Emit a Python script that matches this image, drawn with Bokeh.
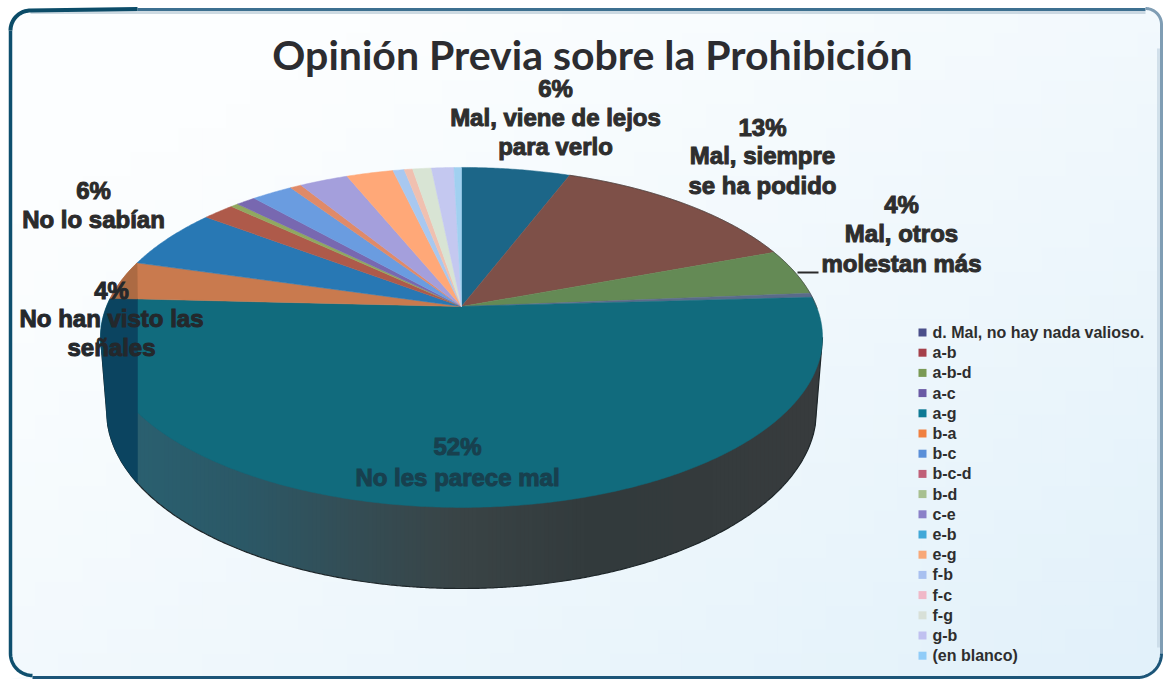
import numpy as np
from bokeh.embed import file_html
from bokeh.resources import INLINE
from bokeh.plotting import figure
from bokeh.models import Range1d
from bokeh.core.properties import value

# ---------- data ----------
title_text = "Opinión Previa sobre la Prohibición"
slice_pct = [5.8, 13.5, 4.4, 0.4, 51.7, 3.7, 5.8, 1.7, 0.4, 1.05, 2.2, 0.6, 2.6, 2.5, 0.6, 0.45, 1.0, 1.2, 0.4]
slice_colors = ["#1c6688", "#7e5048", "#648a55", "#5a6b8a", "#116b7d", "#c97a4e", "#2878b4", "#ae5a4a", "#90a860",
                "#7868b0", "#6a9ce0", "#e08a68", "#a49fdc", "#ffa878", "#a8c8f0", "#f0c0b0", "#d8e4d4", "#c4c8f0", "#a0d0f0"]
legend_names = ["d. Mal, no hay nada valioso.", "a-b", "a-b-d", "a-c", "a-g", "b-a", "b-c", "b-c-d", "b-d", "c-e",
                "e-b", "e-g", "f-b", "f-c", "f-g", "g-b", "(en blanco)"]
legend_colors = ["#4a4f8a", "#a5404a", "#7a9a55", "#6a5aa5", "#0e7a95", "#f08040", "#5a8fd8", "#c06078", "#a8c090",
                 "#8a80c8", "#40a8d8", "#f8a878", "#a8c0f0", "#f0b8c8", "#d8e0d8", "#c0c0f0", "#90ccf8"]
label_lines = [["6%", "Mal, viene de lejos", "para verlo"],
               ["13%", "Mal, siempre", "se ha podido"],
               ["4%", "Mal, otros", "molestan más"],
               ["6%", "No lo sabían"],
               ["4%", "No han visto las", "señales"],
               ["52%", "No les parece mal"]]

# ---------- layout (page pixels) ----------
W, H = 1165, 680
p = figure(width=W, height=H, x_range=Range1d(0, W), y_range=Range1d(H, 0),
           output_backend="svg", toolbar_location=None, min_border=0, outline_line_color=None,
           background_fill_color="#ffffff", border_fill_color="#ffffff")
p.axis.visible = False
p.grid.visible = False

# background gradient drawn as a grid of small cells
L, T, R, B = 10, 8, 1161, 677
xe = np.linspace(L, R, 49)
ye = np.linspace(T, B, 29)
c0, c1 = np.array([252, 254, 255]), np.array([226, 241, 250])
bl, br, bt, bb, bc = [], [], [], [], []
for i in range(len(xe) - 1):
    for j in range(len(ye) - 1):
        fx, fy = (xe[i] + xe[i + 1]) / 2 / W, (ye[j] + ye[j + 1]) / 2 / H
        t = max(0.0, min(1.0, 0.62 * fx + 0.62 * fy - 0.22)) ** 1.1
        c = c0 + (c1 - c0) * t
        bl.append(xe[i]); br.append(xe[i + 1] + 1); bt.append(ye[j]); bb.append(ye[j + 1] + 1)
        bc.append("#%02x%02x%02x" % tuple(int(v) for v in c))
p.quad(left=bl, right=br, top=bt, bottom=bb, fill_color=bc, line_color=None)


def corner(cx, cy, r, a0, a1, n=24):
    a = np.radians(np.linspace(a0, a1, n))
    return cx + r * np.cos(a), cy - r * np.sin(a)


# frame pieces
tlx, tly = corner(L + 20, T + 22, 20, 180, 90)
trx, try_ = corner(R - 16, T + 16, 16, 90, 0)
brx, bry = corner(R - 24, B - 24, 24, 0, -90)
blx, bly = corner(L + 22, B - 24, 22, 270, 180)
for xs, ys, ox, oy in [(tlx, tly, 0, 0), (trx, try_, R + 4, 0), (brx, bry, R + 4, B + 3), (blx, bly, 0, B + 3)]:
    p.patch(list(xs) + [ox], list(ys) + [oy], fill_color="#ffffff", line_color=None)
# top (light part, shadow then line)
p.line([L + 20, R - 16], [T + 4, T + 4], line_color="#b9cbd6", line_width=3, line_alpha=0.7)
p.line([137, R - 16], [T + 1, T + 1], line_color="#3d7090", line_width=3)
p.line(list(trx) + [R, R], list(try_) + [T + 40, B - 24], line_color="#7f9db4", line_width=3)
p.line([R - 3, R - 3], [T + 40, B - 30], line_color="#c4d6e2", line_width=3, line_alpha=0.7)
p.line(list(brx) + [L + 22], list(bry) + [B, ], line_color="#1c5578", line_width=3)
p.line([L, L] + list(reversed(list(blx))), [T + 22, B - 24] + list(reversed(list(bly))), line_color="#0e4f6e", line_width=3.5)
p.line(list(tlx) + [137], list(tly) + [T + 0.5], line_color="#0c4c68", line_width=4)

# ---------- 3D pie ----------
CX, CY0, A, RB, BETA, GAMMA = 461.0, 337.0, 355.0, 170.0, 31.0, 0.182


def rim(theta):
    X, Y = np.sin(theta), np.cos(theta)
    d = 1 + GAMMA * Y
    return CX + A * X / d, CY0 - (RB * Y + BETA) / d


APEX = (CX, CY0 - BETA)
BCY, BA, BB = 410.0, 355.0, 178.0


def y_bottom(x):
    dx = np.abs(np.asarray(x, dtype=float) - CX)
    inner = BCY + BB * np.sqrt(np.clip(1 - (dx / BA) ** 2, 0, 1))
    return np.where(dx <= BA, inner, BCY - (dx - BA) / 6.0 * 73.0)


# wall strips
stops_x = [137, 250, 350, 461, 600, 822]
stops_rgb = np.array([[42, 96, 112], [44, 88, 102], [52, 78, 86], [58, 68, 70], [50, 58, 60], [56, 60, 62]])
strip_edges = np.arange(100, 822, 4.0)
for x0 in strip_edges:
    x1 = min(x0 + 5, 822)
    xm = (x0 + x1) / 2
    rgb = [int(np.interp(xm, stops_x, stops_rgb[:, k])) for k in range(3)]
    col = "#%02x%02x%02x" % tuple(rgb)
    xs = np.linspace(x0, x1, 4)
    p.patch([x0] + list(xs) + [x1], [337] + list(y_bottom(xs)) + [337], fill_color=col, line_color=None)

xb = np.linspace(100, 822, 400)
p.line(xb, y_bottom(xb), line_color="#1e2629", line_width=1.2)

# top face
edges = np.radians(np.concatenate([[0], np.cumsum(slice_pct)]) * 3.6)
for i, colr in enumerate(slice_colors):
    th = np.linspace(edges[i], edges[i + 1], max(6, int(slice_pct[i] * 8)))
    x, y = rim(th)
    p.patch([APEX[0]] + list(x), [APEX[1]] + list(y), fill_color=colr, line_color=colr, line_width=0.5)

# darker band at the left of the scan
SEAM = 137.0
teal_end = edges[5]
th = np.linspace(teal_end, teal_end - np.radians(30), 200)
x, y = rim(th)
k = int(np.argmin(x))
ex, ey = rim(np.array([teal_end]))
seam_y = APEX[1] + (ey[0] - APEX[1]) * (SEAM - APEX[0]) / (ex[0] - APEX[0])
xl = np.linspace(x[k], SEAM, 60)
p.patch(list(x[:k + 1]) + list(xl) + [SEAM], list(y[:k + 1]) + list(y_bottom(xl)) + [seam_y],
        fill_color="#0b4460", line_color="#0b4460", line_width=0.5)
th = np.linspace(edges[5], edges[6], 80)
x, y = rim(th)
mask = x < SEAM
p.patch(list(x[mask]) + [SEAM], list(y[mask]) + [seam_y], fill_color="#ac6a43", line_color="#ac6a43", line_width=0.5)

# dark rim edge
th = np.linspace(edges[1], edges[4] + np.radians(4), 80)
x, y = rim(th)
p.line(x, y, line_color="#3c3c3c", line_width=1, line_alpha=0.6)

# leader
p.line([797, 818], [272, 272], line_color="#2a2a2a", line_width=2)

# ---------- texts ----------
p.text(x=[592], y=[54], text=[title_text], text_font=value("Lato"), text_font_style="bold",
       text_font_size="41px", text_color="#2c2c30", text_align="center", text_baseline="middle")

label_pos = [(555, [88, 117, 146]), (762, [127, 155, 185]), (901, [204, 233, 263]),
             (93, [190, 219]), (111, [290, 318, 347]), (457, [446, 477])]
label_colors = ["#2e2e2e", "#2e2e2e", "#2e2e2e", "#2b2b2b", "#24282c", "#18404e"]
for lines, (lx, lys), colr in zip(label_lines, label_pos, label_colors):
    p.text(x=[lx] * len(lines), y=lys, text=lines, text_font=value("Liberation Sans"), text_font_style="bold",
           text_font_size="24px", text_color=colr, text_outline_color=colr, text_align="center", text_baseline="middle")

ly = [332 + 20.2 * i for i in range(len(legend_names))]
p.scatter(x=[922] * len(ly), y=ly, marker="square", size=8, fill_color=legend_colors, line_color=None)
p.text(x=[932] * len(ly), y=ly, text=legend_names, text_font=value("Liberation Sans"), text_font_style="bold",
       text_font_size="16px", text_color="#2e2e2e", text_align="left", text_baseline="middle")

open("out.html", "w").write(file_html(p, INLINE))
